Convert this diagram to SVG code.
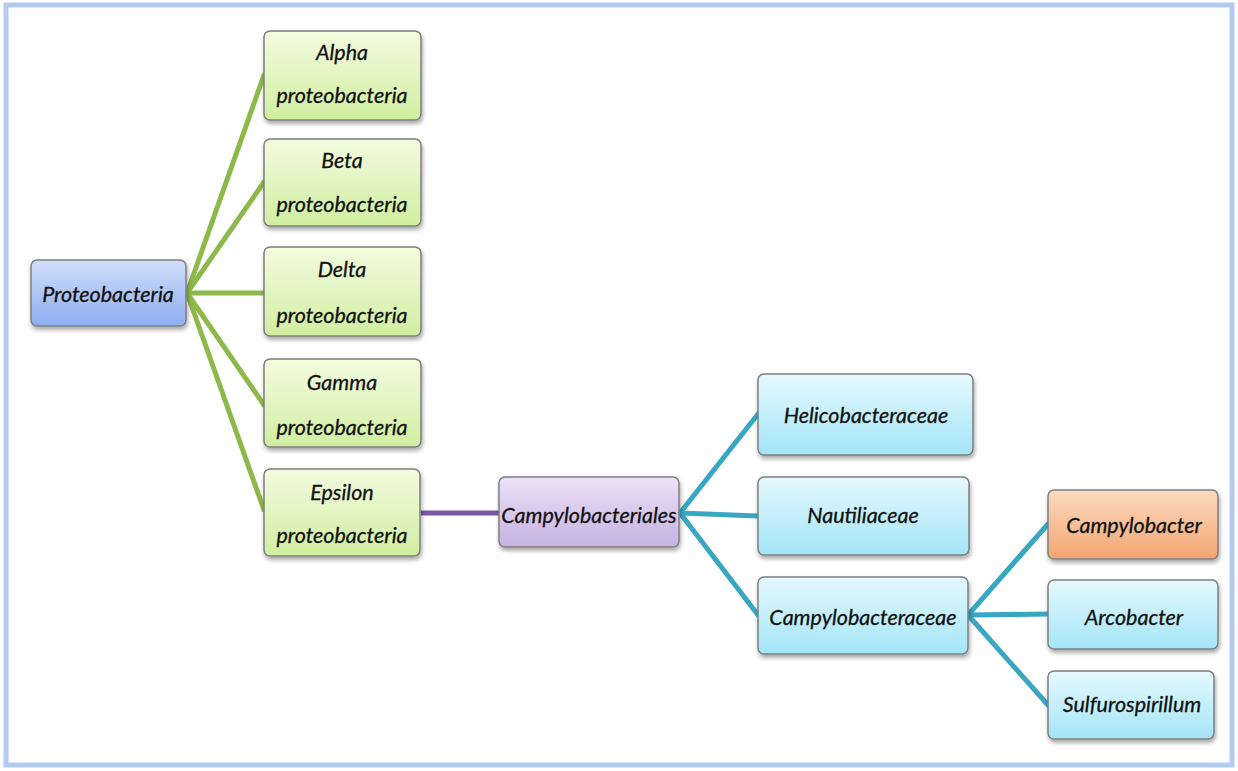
<svg xmlns="http://www.w3.org/2000/svg" width="1238" height="771" viewBox="0 0 1238 771">
<defs>
<linearGradient id="gGreen" x1="0" y1="0" x2="0" y2="1"><stop offset="0" stop-color="#f3fbe0"/><stop offset="1" stop-color="#d0efa0"/></linearGradient>
<linearGradient id="gBlue" x1="0" y1="0" x2="0" y2="1"><stop offset="0" stop-color="#d0defa"/><stop offset="1" stop-color="#8eaef0"/></linearGradient>
<linearGradient id="gPurple" x1="0" y1="0" x2="0" y2="1"><stop offset="0" stop-color="#ece2f6"/><stop offset="1" stop-color="#c7b1e3"/></linearGradient>
<linearGradient id="gCyan" x1="0" y1="0" x2="0" y2="1"><stop offset="0" stop-color="#e6f9fe"/><stop offset="1" stop-color="#a3e5f8"/></linearGradient>
<linearGradient id="gOrange" x1="0" y1="0" x2="0" y2="1"><stop offset="0" stop-color="#fcdcc0"/><stop offset="1" stop-color="#f3a472"/></linearGradient>
<filter id="sh" x="-10%" y="-10%" width="130%" height="140%"><feDropShadow dx="1" dy="3" stdDeviation="2" flood-color="#000" flood-opacity="0.35"/></filter>
</defs>
<style>
.box{stroke:#7f7f7f;stroke-width:1.5;filter:url(#sh)}
.t{font-family:Lato,"Liberation Sans",sans-serif;font-style:italic;font-size:21.5px;fill:#111;stroke:#111;stroke-width:0.3;text-anchor:middle}
.cg{stroke:#8cb94a;stroke-width:5;fill:none;stroke-linecap:round}
.cp{stroke:#7a55a8;stroke-width:5;fill:none}
.cb{stroke:#3aa7c2;stroke-width:5;fill:none;stroke-linecap:round}
</style>
<rect x="6" y="5" width="1226" height="760" fill="#ffffff" stroke="#b3caf1" stroke-width="5"/>
<g id="connectors">
<line class="cg" x1="187" y1="293" x2="264" y2="75"/>
<line class="cg" x1="187" y1="293" x2="264" y2="182"/>
<line class="cg" x1="187" y1="293" x2="264" y2="293"/>
<line class="cg" x1="187" y1="293" x2="264" y2="405"/>
<line class="cg" x1="187" y1="293" x2="264" y2="510"/>
<line class="cp" x1="421" y1="513" x2="499" y2="513"/>
<line class="cb" x1="680" y1="513" x2="758" y2="414"/>
<line class="cb" x1="680" y1="513" x2="758" y2="516"/>
<line class="cb" x1="680" y1="513" x2="758" y2="615"/>
<line class="cb" x1="968" y1="615" x2="1048" y2="524"/>
<line class="cb" x1="968" y1="615" x2="1048" y2="614"/>
<line class="cb" x1="968" y1="615" x2="1048" y2="705"/>
</g>
<g id="proteobacteria"><rect class="box" x="31" y="260" width="155" height="66" rx="6" fill="url(#gBlue)"/><text class="t" x="108" y="302">Proteobacteria</text></g>
<g id="alpha"><rect class="box" x="264" y="31" width="157" height="89" rx="6" fill="url(#gGreen)"/><text class="t" x="342" y="60">Alpha</text><text class="t" x="342" y="103">proteobacteria</text></g>
<g id="beta"><rect class="box" x="264" y="139" width="157" height="87" rx="6" fill="url(#gGreen)"/><text class="t" x="342" y="168">Beta</text><text class="t" x="342" y="212">proteobacteria</text></g>
<g id="delta"><rect class="box" x="264" y="247" width="157" height="89" rx="6" fill="url(#gGreen)"/><text class="t" x="342" y="277">Delta</text><text class="t" x="342" y="323">proteobacteria</text></g>
<g id="gamma"><rect class="box" x="264" y="359" width="157" height="88" rx="6" fill="url(#gGreen)"/><text class="t" x="342" y="390">Gamma</text><text class="t" x="342" y="435">proteobacteria</text></g>
<g id="epsilon"><rect class="box" x="264" y="469" width="156" height="87" rx="6" fill="url(#gGreen)"/><text class="t" x="342" y="500">Epsilon</text><text class="t" x="342" y="543">proteobacteria</text></g>
<g id="campylobacteriales"><rect class="box" x="499" y="477" width="180" height="70" rx="6" fill="url(#gPurple)"/><text class="t" x="589" y="523">Campylobacteriales</text></g>
<g id="helicobacteraceae"><rect class="box" x="758" y="374" width="215" height="81" rx="6" fill="url(#gCyan)"/><text class="t" x="866" y="423">Helicobacteraceae</text></g>
<g id="nautiliaceae"><rect class="box" x="758" y="477" width="211" height="78" rx="6" fill="url(#gCyan)"/><text class="t" x="863" y="523">Nautiliaceae</text></g>
<g id="campylobacteraceae"><rect class="box" x="758" y="577" width="210" height="77" rx="6" fill="url(#gCyan)"/><text class="t" x="863" y="625">Campylobacteraceae</text></g>
<g id="campylobacter"><rect class="box" x="1048" y="490" width="170" height="69" rx="6" fill="url(#gOrange)"/><text class="t" x="1134" y="533">Campylobacter</text></g>
<g id="arcobacter"><rect class="box" x="1048" y="580" width="170" height="69" rx="6" fill="url(#gCyan)"/><text class="t" x="1134" y="625">Arcobacter</text></g>
<g id="sulfurospirillum"><rect class="box" x="1048" y="671" width="166" height="68" rx="6" fill="url(#gCyan)"/><text class="t" x="1132" y="712">Sulfurospirillum</text></g>
</svg>
